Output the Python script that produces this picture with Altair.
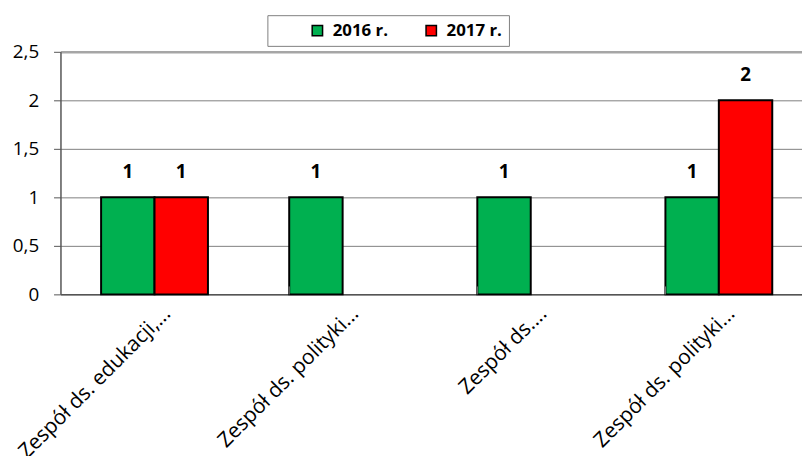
import altair as alt
import pandas as pd

category_ids = ["c1", "c2", "c3", "c4"]
category_labels = [
    "Zespół ds. edukacji,...",
    "Zespół ds. polityki...",
    "Zespół ds....",
    "Zespół ds. polityki...",
]
years = ["2016 r.", "2017 r."]
values_2016 = [1, 1, 1, 1]
values_2017 = [1, None, None, 2]
title_text = "w latach 2016- 2017"

rows = []
for cid, v16, v17 in zip(category_ids, values_2016, values_2017):
    if v16 is not None:
        rows.append({"cat": cid, "year": years[0], "value": v16})
    if v17 is not None:
        rows.append({"cat": cid, "year": years[1], "value": v17})
df = pd.DataFrame(rows)
bounds = pd.DataFrame({"cat": category_ids[1:]})

label_map = "{" + ",".join(f"'{c}':'{l}'" for c, l in zip(category_ids, category_labels)) + "}"

FONT = "Open Sans"

xscale = alt.Scale(domain=category_ids, paddingInner=0.432, paddingOuter=0.216)
yscale = alt.Scale(domain=[0, 2.5], nice=False)
oscale = alt.Scale(domain=years, paddingInner=0, paddingOuter=0)

xaxis = alt.Axis(
    title=None, ticks=False, labelAngle=-45, labelAlign="right", labelBaseline="middle",
    labelExpr=f"{label_map}[datum.value]", labelFont=FONT, labelFontSize=21,
    labelColor="black", labelOffset=13, labelPadding=16, domainColor="#555555",
    domainWidth=1.5, grid=False, labelLimit=400,
)
yaxis = alt.Axis(
    title=None, values=[0, 0.5, 1, 1.5, 2, 2.5],
    labelExpr="replace(format(datum.value, ''), '.', ',')",
    labelFont=FONT, labelFontSize=19, labelColor="black", labelPadding=15,
    tickColor="#555555", tickSize=7, domainColor="#555555", domainWidth=1.5,
    gridColor={"condition": {"test": "datum.value == 2.5", "value": "#a6a6a6"}, "value": "#808080"},
    gridWidth={"condition": {"test": "datum.value == 2.5", "value": 2.5}, "value": 1},
)

bars = alt.Chart(df).mark_bar(stroke="black", strokeWidth=2).encode(
    x=alt.X("cat:N", scale=xscale, axis=xaxis, sort=category_ids),
    xOffset=alt.XOffset("year:N", scale=oscale),
    y=alt.Y("value:Q", scale=yscale, axis=yaxis),
    color=alt.Color(
        "year:N",
        scale=alt.Scale(domain=years, range=["#00B050", "#FF0000"]),
        legend=alt.Legend(
            title=None,
            orient="none", direction="horizontal", legendX=209, legendY=-37,
            strokeColor="#808080", padding=7, symbolType="square", symbolSize=110,
            symbolStrokeColor="black", symbolStrokeWidth=1.5, symbolOpacity=1,
            symbolOffset=35, columnPadding=0, labelFont=FONT, labelFontSize=17,
            labelFontWeight="bold", labelColor="black", labelOffset=7,
        ),
    ),
)

texts = alt.Chart(df).mark_text(dy=-26, fontWeight="bold", fontSize=19, font=FONT, color="black").encode(
    x=alt.X("cat:N", scale=xscale, sort=category_ids),
    xOffset=alt.XOffset("year:N", scale=oscale),
    y=alt.Y("value:Q", scale=yscale),
    text=alt.Text("value:Q"),
)

ticks = alt.Chart(bounds).mark_rule(color="#808080", strokeWidth=1).encode(
    x=alt.X("cat:N", scale=xscale, bandPosition=0, sort=category_ids),
    y=alt.value(245),
    y2=alt.value(237),
)

chart = alt.layer(bars, texts, ticks).properties(
    width=760, height=245,
    autosize=alt.AutoSizeParams(type="none"),
    padding={"left": 53, "top": 42, "right": -11, "bottom": 161},
    title=alt.TitleParams(title_text, fontSize=18, fontWeight="bold", font=FONT, anchor="middle", offset=40, color="black"),
).configure_view(stroke=None)

chart.save("out.html", embed_options={"renderer": "svg", "actions": False})
